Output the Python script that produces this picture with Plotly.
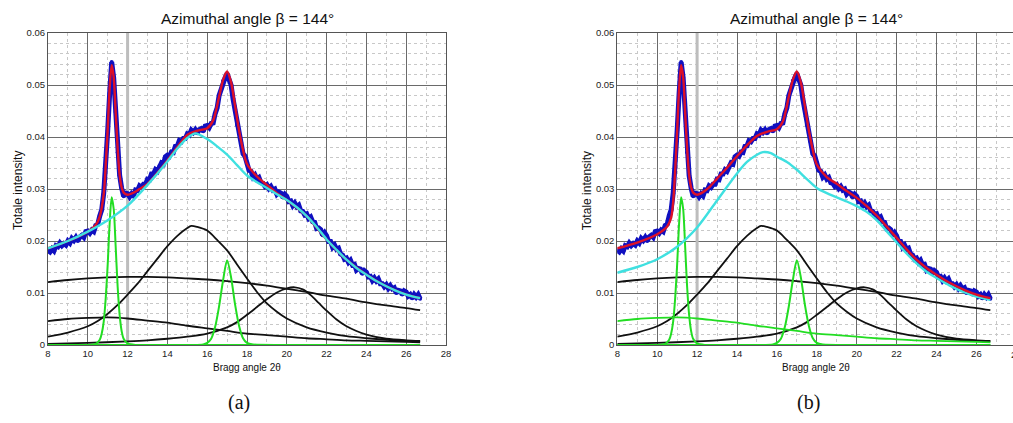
import plotly.graph_objects as go

# ---------------- data ----------------
# observed intensities, 2theta from 8.0 to 26.7 in steps of 0.1
data_x0 = 8.0
data_step = 0.1
data_y = [
    0.0182, 0.0179, 0.0185, 0.0181, 0.0191, 0.0189, 0.0196, 0.0191, 0.0195, 0.0192,
    0.0200, 0.0196, 0.0205, 0.0201, 0.0207, 0.0200, 0.0208, 0.0211, 0.0207, 0.0218,
    0.0219, 0.0215, 0.0221, 0.0218, 0.0230, 0.0232, 0.0248, 0.0260, 0.0292, 0.0341,
    0.0412, 0.0485, 0.0544, 0.0514, 0.0448, 0.0370, 0.0326, 0.0302, 0.0286, 0.0292,
    0.0291, 0.0285, 0.0291, 0.0287, 0.0298, 0.0297, 0.0306, 0.0303, 0.0309, 0.0309,
    0.0319, 0.0318, 0.0329, 0.0329, 0.0337, 0.0334, 0.0344, 0.0350, 0.0348, 0.0362,
    0.0365, 0.0363, 0.0371, 0.0370, 0.0382, 0.0383, 0.0393, 0.0391, 0.0397, 0.0397,
    0.0406, 0.0404, 0.0413, 0.0409, 0.0414, 0.0407, 0.0414, 0.0416, 0.0411, 0.0421,
    0.0422, 0.0418, 0.0426, 0.0427, 0.0445, 0.0456, 0.0480, 0.0491, 0.0508, 0.0514,
    0.0522, 0.0509, 0.0500, 0.0473, 0.0453, 0.0423, 0.0408, 0.0390, 0.0368, 0.0363,
    0.0351, 0.0336, 0.0334, 0.0323, 0.0327, 0.0319, 0.0322, 0.0312, 0.0311, 0.0305,
    0.0308, 0.0301, 0.0305, 0.0298, 0.0300, 0.0290, 0.0294, 0.0292, 0.0284, 0.0290,
    0.0286, 0.0276, 0.0277, 0.0268, 0.0273, 0.0266, 0.0269, 0.0258, 0.0257, 0.0250,
    0.0252, 0.0243, 0.0246, 0.0237, 0.0236, 0.0224, 0.0225, 0.0222, 0.0211, 0.0216,
    0.0210, 0.0199, 0.0199, 0.0188, 0.0192, 0.0184, 0.0186, 0.0175, 0.0173, 0.0165,
    0.0167, 0.0159, 0.0163, 0.0154, 0.0155, 0.0144, 0.0147, 0.0146, 0.0137, 0.0143,
    0.0140, 0.0131, 0.0132, 0.0124, 0.0129, 0.0123, 0.0127, 0.0118, 0.0118, 0.0112,
    0.0116, 0.0109, 0.0114, 0.0108, 0.0110, 0.0100, 0.0105, 0.0104, 0.0097, 0.0104,
    0.0102, 0.0094, 0.0097, 0.0090, 0.0097, 0.0092, 0.0097, 0.0089,
]
data_x = [round(data_x0 + i * data_step, 2) for i in range(len(data_y))]

# total fit (red), panel (a)
red_a_x = [8, 9, 10, 10.4, 10.6, 10.8, 10.9, 11.0, 11.1, 11.2, 11.3, 11.4, 11.5, 11.6, 11.7,
           11.8, 12.0, 12.3, 12.6, 13, 13.5, 14, 14.5, 15, 15.5, 16, 16.3, 16.6, 16.8, 17.0,
           17.2, 17.4, 17.6, 17.8, 18.0, 18.5, 19, 19.5, 20, 21, 22, 23, 24, 25, 26, 26.7]
red_a_y = [0.0186, 0.0200, 0.0218, 0.0231, 0.0247, 0.0290, 0.0345, 0.0415, 0.0495, 0.0538,
           0.0515, 0.0448, 0.0378, 0.0327, 0.0303, 0.0293, 0.0289, 0.0293, 0.0300, 0.0310,
           0.0331, 0.0355, 0.0381, 0.0404, 0.0412, 0.0417, 0.0432, 0.0478, 0.0510, 0.0526,
           0.0505, 0.0460, 0.0413, 0.0375, 0.0348, 0.0324, 0.0308, 0.0292, 0.0279, 0.0248,
           0.0203, 0.0164, 0.0135, 0.0113, 0.0097, 0.0090]

# amorphous envelope (cyan), panel (a)
cyan_a_x = [8, 9, 10, 11, 12, 13, 14, 14.5, 15, 15.4, 16, 16.5, 17, 17.5, 18, 18.5, 19, 19.5,
            20, 20.5, 21, 21.5, 22, 22.5, 23, 23.5, 24, 24.5, 25, 25.5, 26, 26.7]
cyan_a_y = [0.0186, 0.0200, 0.0218, 0.0240, 0.0268, 0.0308, 0.0353, 0.0378, 0.0398, 0.0407,
            0.0396, 0.0382, 0.0366, 0.0346, 0.0326, 0.0313, 0.0302, 0.0290, 0.0279, 0.0265,
            0.0248, 0.0227, 0.0203, 0.0183, 0.0164, 0.0148, 0.0135, 0.0123, 0.0113, 0.0104,
            0.0097, 0.0090]

# total fit (red), panel (b)
red_b_x = [8, 9, 10, 10.5, 10.7, 10.8, 10.9, 11.0, 11.1, 11.2, 11.3, 11.4, 11.5, 11.6, 11.7,
           11.8, 12.0, 12.3, 12.6, 13, 13.5, 14, 14.5, 15, 15.5, 16, 16.3, 16.6, 16.8, 17.0,
           17.2, 17.4, 17.6, 17.8, 18.0, 18.5, 19, 19.5, 20, 20.5, 21, 21.5, 22, 22.5, 23,
           23.5, 24, 24.5, 25, 25.5, 26, 26.7]
red_b_y = [0.0186, 0.0197, 0.0213, 0.0228, 0.0245, 0.0275, 0.0335, 0.0412, 0.0494, 0.0538,
           0.0515, 0.0448, 0.0378, 0.0327, 0.0303, 0.0293, 0.0289, 0.0294, 0.0303, 0.0320,
           0.0341, 0.0363, 0.0384, 0.0402, 0.0410, 0.0415, 0.0430, 0.0478, 0.0510, 0.0526,
           0.0505, 0.0460, 0.0413, 0.0375, 0.0347, 0.0323, 0.0310, 0.0296, 0.0283, 0.0267,
           0.0249, 0.0228, 0.0206, 0.0184, 0.0164, 0.0148, 0.0135, 0.0123, 0.0113, 0.0104,
           0.0097, 0.0090]

# amorphous envelope (cyan), panel (b)
cyan_b_x = [8, 9, 10, 11, 12, 13, 14, 14.5, 15, 15.3, 15.7, 16, 16.5, 17, 17.5, 18, 18.5, 19,
            19.5, 20, 20.5, 21, 21.5, 22, 22.5, 23, 23.5, 24, 24.5, 25, 25.5, 26, 26.7]
cyan_b_y = [0.0139, 0.0150, 0.0165, 0.0189, 0.0226, 0.0278, 0.0330, 0.0352, 0.0366, 0.0371,
            0.0369, 0.0362, 0.0352, 0.0337, 0.0319, 0.0302, 0.0292, 0.0284, 0.0276, 0.0267,
            0.0256, 0.0240, 0.0219, 0.0197, 0.0176, 0.0157, 0.0141, 0.0129, 0.0118, 0.0108,
            0.0100, 0.0093, 0.0087]

# broad components (black in both panels)
b1_x = [8, 9, 10, 11, 12, 13, 14, 15, 16, 17, 18, 19, 20, 21, 22, 23, 24, 25, 26, 26.7]
b1_y = [0.0121, 0.0125, 0.0128, 0.0130, 0.0131, 0.0131, 0.0130, 0.0128, 0.0126, 0.0123,
        0.0119, 0.0114, 0.0108, 0.0102, 0.0095, 0.0089, 0.0082, 0.0076, 0.0071, 0.0067]

b2_x = [8, 9, 10, 10.5, 11, 11.5, 12, 12.5, 13, 13.5, 14, 14.5, 15, 15.2, 15.5, 16, 16.5, 17,
        17.5, 18, 18.5, 19, 19.5, 20, 21, 22, 23, 24, 25, 26, 26.7]
b2_y = [0.0016, 0.0024, 0.0036, 0.0046, 0.0060, 0.0077, 0.0097, 0.0118, 0.0142, 0.0166,
        0.0190, 0.0210, 0.0225, 0.0229, 0.0227, 0.0220, 0.0202, 0.0182, 0.0155, 0.0128,
        0.0102, 0.0080, 0.0064, 0.0051, 0.0034, 0.0024, 0.0017, 0.0013, 0.0010, 0.0008,
        0.0007]

b4_x = [8, 10, 12, 13, 14, 15, 16, 17, 17.5, 18, 18.5, 19, 19.5, 20, 20.4, 20.8, 21.2, 21.6,
        22, 22.5, 23, 23.5, 24, 25, 26, 26.7]
b4_y = [0.0002, 0.0004, 0.0007, 0.0009, 0.0012, 0.0016, 0.0022, 0.0034, 0.0044, 0.0058,
        0.0073, 0.0088, 0.0101, 0.0109, 0.0111, 0.0107, 0.0096, 0.0081, 0.0066, 0.0049,
        0.0036, 0.0027, 0.0020, 0.0012, 0.0009, 0.0008]

# low broad component (black in (a), green in (b))
b3_x = [8, 9, 10, 11, 12, 13, 14, 15, 16, 17, 18, 19, 20, 21, 22, 23, 24, 25, 26, 26.7]
b3_y = [0.0046, 0.0050, 0.0052, 0.0053, 0.0051, 0.0047, 0.0043, 0.0037, 0.0032, 0.0027,
        0.0022, 0.0019, 0.0016, 0.0013, 0.0011, 0.0009, 0.0008, 0.0007, 0.0006, 0.0005]

# crystalline peaks (green)
g1_x = [8, 10, 10.4, 10.6, 10.7, 10.8, 10.9, 11.0, 11.1, 11.2, 11.3, 11.4, 11.5, 11.6, 11.7,
        11.8, 12.0, 12.4, 14, 18, 22, 26.7]
g1_y = [0, 0, 0.0002, 0.0010, 0.0022, 0.0045, 0.0090, 0.0155, 0.0235, 0.0284, 0.0262,
        0.0190, 0.0112, 0.0058, 0.0027, 0.0012, 0.0003, 0, 0, 0, 0, 0]

g2_x = [8, 12, 15.8, 16.0, 16.2, 16.4, 16.6, 16.8, 17.0, 17.2, 17.4, 17.6, 17.8, 18.0, 18.3,
        20, 26.7]
g2_y = [0, 0, 0.0001, 0.0004, 0.0012, 0.0035, 0.0075, 0.0125, 0.0163, 0.0130, 0.0078,
        0.0037, 0.0013, 0.0004, 0.0001, 0, 0]

x_ticks = [8, 10, 12, 14, 16, 18, 20, 22, 24, 26, 28]
y_ticks = [0, 0.01, 0.02, 0.03, 0.04, 0.05, 0.06]
title_text = "Azimuthal angle \u03b2 = 144\u00b0"
ylab = "Totale intensity"
xlab = "Bragg angle 2\u03b8"
captions = ["(a)", "(b)"]

# ---------------- styling ----------------
W, H = 1013, 423
BLUE = "#1010c0"
RED = "#dc1028"
CYAN = "#3fe0e0"
GREEN = "#22dd22"
BLACK = "#111111"
FONT = "Liberation Sans, Arial, sans-serif"

fig = go.Figure()


def line(x, y, color, width, axis):
    xa, ya = axis
    fig.add_trace(go.Scatter(x=x, y=y, mode="lines", xaxis=xa, yaxis=ya,
                             line=dict(color=color, width=width, shape="spline", smoothing=0.8),
                             showlegend=False, hoverinfo="skip"))


for panel, axis in enumerate([("x", "y"), ("x2", "y2")]):
    xa, ya = axis
    # dense cloud of measured points
    fig.add_trace(go.Scatter(x=data_x, y=data_y, mode="lines+markers", xaxis=xa, yaxis=ya,
                             line=dict(color=BLUE, width=5),
                             marker=dict(color=BLUE, size=4, line=dict(width=0)),
                             showlegend=False, hoverinfo="skip"))
    line(b1_x, b1_y, BLACK, 1.8, axis)
    line(b2_x, b2_y, BLACK, 1.8, axis)
    line(b4_x, b4_y, BLACK, 1.8, axis)
    line(b3_x, b3_y, BLACK if panel == 0 else GREEN, 1.8, axis)
    line(g1_x, g1_y, GREEN, 2, axis)
    line(g2_x, g2_y, GREEN, 2, axis)
    if panel == 0:
        line(red_a_x, red_a_y, RED, 2.4, axis)
        line(cyan_a_x, cyan_a_y, CYAN, 2.4, axis)
    else:
        line(cyan_b_x, cyan_b_y, CYAN, 2.4, axis)
        line(red_b_x, red_b_y, RED, 2.4, axis)

# geometry (pixels)
left_px = [(48, 446), (617.3, W)]
top_px, bot_px = 33, 345
x_ranges = [[8, 28], [8, 8 + (W - 617.3) / 19.95]]

ydom = [1 - bot_px / H, 1 - top_px / H]
common_axis = dict(
    showline=True, linecolor="#555555", linewidth=1, mirror=True,
    showgrid=True, gridcolor="#6a6a6a", gridwidth=1,
    ticks="", zeroline=False, automargin=False,
    tickfont=dict(family=FONT, size=9.5, color="#222222"),
)
for i, (l, r) in enumerate(left_px):
    sfx = "" if i == 0 else "2"
    fig.update_layout(**{
        "xaxis" + sfx: dict(common_axis, domain=[l / W, r / W], range=x_ranges[i],
                            anchor="y" + sfx, tickmode="array", tickvals=x_ticks,
                            minor=dict(tickmode="linear", tick0=8, dtick=1, showgrid=True,
                                       gridcolor="#c8c8c8", griddash="dot", gridwidth=1)),
        "yaxis" + sfx: dict(common_axis, domain=ydom, range=[0, 0.06], anchor="x" + sfx,
                            tickmode="array", tickvals=y_ticks,
                            minor=dict(tickmode="linear", tick0=0, dtick=0.002, showgrid=True,
                                       gridcolor="#c8c8c8", griddash="dot", gridwidth=1)),
    })

shapes = []
for sfx in ["", "2"]:
    shapes.append(dict(type="line", xref="x" + sfx, yref="y" + sfx, x0=12, x1=12, y0=0, y1=0.06,
                       line=dict(color="#bdbdbd", width=3), layer="between"))

annotations = []
for i, (l, r) in enumerate(left_px):
    cx = (l + (446 - 48 + l if i == 1 else r)) / 2
    annotations.append(dict(text=title_text, x=cx / W, y=1 - 19 / H, xref="paper", yref="paper",
                            showarrow=False, xanchor="center", yanchor="middle",
                            font=dict(family=FONT, size=15.5, color="#111111")))
    annotations.append(dict(text=xlab, x=cx / W, y=1 - 367 / H, xref="paper", yref="paper",
                            showarrow=False, xanchor="center", yanchor="middle",
                            font=dict(family=FONT, size=10, color="#111111")))
    annotations.append(dict(text=ylab, x=(l - 30) / W, y=1 - 191 / H, xref="paper", yref="paper",
                            showarrow=False, xanchor="center", yanchor="middle", textangle=-90,
                            font=dict(family=FONT, size=12, color="#111111")))
    annotations.append(dict(text=captions[i], x=(cx - 8) / W, y=1 - 402 / H, xref="paper",
                            yref="paper", showarrow=False, xanchor="center", yanchor="middle",
                            font=dict(family="Liberation Serif, DejaVu Serif, serif", size=20,
                                      color="#111111")))
# partially visible "28" on the right panel, cut off by the page edge (as in the original)
annotations.append(dict(text="28", x=(617.3 + 20 * 19.95) / W, y=1 - 354 / H, xref="paper",
                        yref="paper", showarrow=False, xanchor="center", yanchor="middle",
                        font=dict(family=FONT, size=9.5, color="#222222")))

fig.update_layout(width=W, height=H, margin=dict(l=0, r=0, t=0, b=0),
                  paper_bgcolor="white", plot_bgcolor="white",
                  shapes=shapes, annotations=annotations, showlegend=False)

fig.write_html("out.html")
